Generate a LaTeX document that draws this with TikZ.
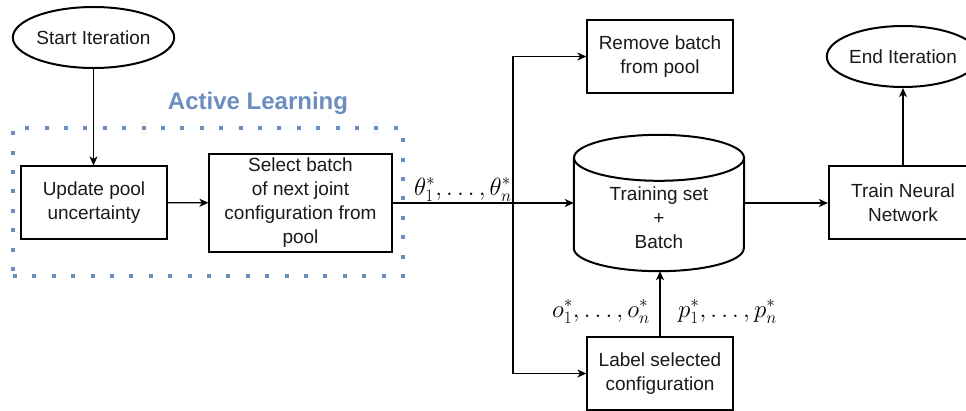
\documentclass[tikz,border=0pt]{standalone}
\usepackage[no-math]{fontspec}
\setmainfont{Liberation Sans}
\usetikzlibrary{arrows.meta,shapes.geometric}
\definecolor{alblue}{HTML}{6C8EBF}

\begin{document}
\begin{tikzpicture}[x=1pt,y=-1pt,
  txt/.style={font=\fontsize{19}{24}\selectfont, align=center, text=black!90},
  procbox/.style={txt, draw, line width=1.2pt, inner sep=0pt},
  thickbox/.style={procbox, line width=2.2pt},
  terminal/.style={txt, ellipse, draw, line width=2pt, inner sep=0pt,
    minimum width=135pt, minimum height=61pt},
  link/.style={line width=1.3pt, -{Stealth[length=9pt,width=8pt,inset=2.5pt]}},
  mathlbl/.style={font=\fontsize{23}{26}\selectfont, inner sep=0pt},
  dotframe/.style={draw=alblue, line width=4pt, dash pattern=on 4pt off 15.4pt},
  cyl/.style={line width=2pt}]

% page area
\useasboundingbox (0,0) rectangle (966,410);
\clip (0,0) rectangle (966,410);

% active learning group
\node[dotframe, minimum width=390pt, minimum height=148pt, inner sep=0pt] (alframe) at (208,202) {};
\node[font=\fontsize{24}{28}\selectfont\bfseries, text=alblue] (altitle) at (258,103) {Active Learning};

% terminals
\node[terminal] (start) at (93.5,37.5) {Start Iteration};
\node[terminal, minimum width=136pt] (endit) at (903,56.5) {End Iteration};

% process boxes
\node[procbox, minimum width=146pt, minimum height=73pt] (upd) at (94,202.5) {Update pool\\uncertainty};
\node[procbox, minimum width=183pt, minimum height=98pt] (sel) at (300.5,203) {Select batch\\of next joint\\configuration from\\pool};
\node[procbox, minimum width=146pt, minimum height=73pt] (rem) at (660,56.5) {Remove batch\\from pool};
\node[procbox, minimum width=146pt, minimum height=73pt] (lab) at (660,373.5) {Label selected\\configuration};
\node[thickbox, minimum width=148pt, minimum height=73pt] (train) at (903,202.5) {Train Neural\\Network};

% training set cylinder
\node[minimum width=170pt, minimum height=136pt, inner sep=0pt] (ts) at (659,203) {};
\draw[cyl] (ts.north west) ++(0,23) -- ([yshift=23pt]ts.south west)
  arc[start angle=180, end angle=360, x radius=85pt, y radius=23pt]
  -- ([yshift=-23pt]ts.north east);
\draw[cyl] ([yshift=-23pt]ts.north) ellipse[x radius=85pt, y radius=23pt];
\node[txt] (tstext) at (659,218) {Training set\\+\\Batch};

% connectors
\coordinate (br) at (513,203);
\draw[link] (start.south) -- (start.south |- upd.north);
\draw[link] (upd) -- (sel);
\draw[link] (sel.east) -- (ts.west);
\draw[link] (br) |- (rem.west);
\draw[link] (br) |- (lab.west);
\draw[link] (lab.north) -- (lab.north |- ts.south);
\draw[link] (ts.east) -- (ts.east -| train.west);
\draw[link] (train.north) -- (endit.south);

% edge labels
\node[mathlbl, anchor=base east] (thetalbl) at (512,195) {$\theta_1^*,\ldots,\theta_n^*$};
\node[mathlbl, anchor=base east] (olbl) at (650,317) {$o_1^*,\ldots,o_n^*$};
\node[mathlbl, anchor=base west] (plbl) at (678,317) {$p_1^*,\ldots,p_n^*$};
\end{tikzpicture}
\end{document}
